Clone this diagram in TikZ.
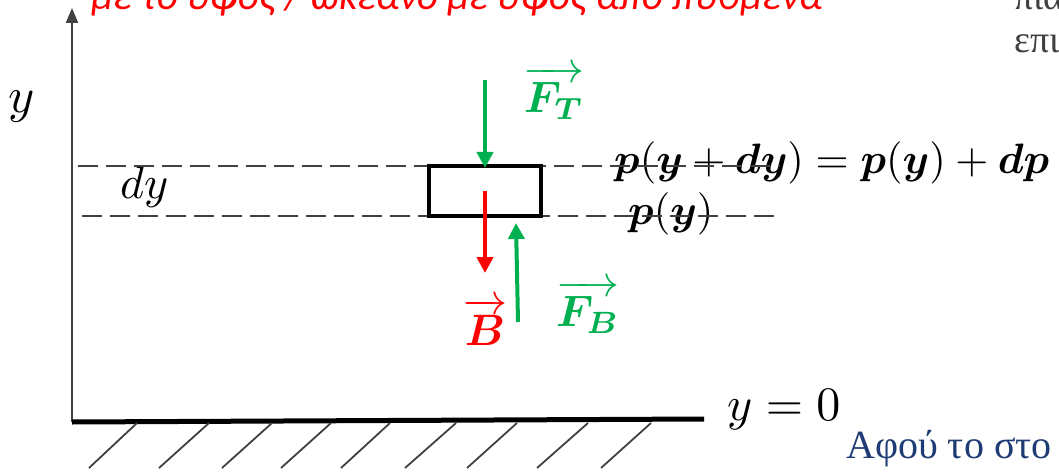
\documentclass[tikz,border=0pt]{standalone}
\usepackage{amsmath,bm,graphicx}
\usepackage[no-math]{fontspec}
\newfontfamily\redfont{Carlito}
\newfontfamily\grfont{Liberation Serif}
\usetikzlibrary{arrows.meta}
\definecolor{axgray}{HTML}{404040}
\definecolor{fgreen}{HTML}{00B050}
\definecolor{fred}{HTML}{FF0000}
\definecolor{navy}{HTML}{1F3B73}
\tikzset{
  axisline/.style={draw=axgray, line width=2pt},
  dashline/.style={draw=axgray, line width=1.8pt, dash pattern=on 20pt off 8pt},
  force/.style={line width=4pt, -{Triangle[width=16pt,length=16pt]}},
  hatch/.style={draw=axgray, line width=1.8pt},
  mathlbl/.style={inner sep=0pt},
  redtxt/.style={inner sep=0pt, text=fred, font=\redfont\itshape\fontsize{41}{48}\selectfont},
  graytxt/.style={inner sep=0pt, text=axgray, font=\grfont\fontsize{38}{44}\selectfont},
  navytxt/.style={inner sep=0pt, text=navy, font=\grfont\fontsize{40}{46}\selectfont},
}
\begin{document}
\begin{tikzpicture}[x=1pt,y=-1pt]
\useasboundingbox (0,0) rectangle (1059,473);
\clip (0,0) rectangle (1059,473);
% slide texts (cut off by the crop)
\node[redtxt, anchor=base west] (top) at (91,10) {με το ύψος / ωκεανό με ύψος από πυθμένα};
\node[graytxt, anchor=base west] (g1) at (1014,10) {πια};
\node[graytxt, anchor=base west] (g2) at (1014,53) {επι};
\node[navytxt, anchor=base west] (nav) at (846,458) {Αφού το στο};
% math labels
\node[mathlbl, anchor=base west] (ylab) at (8,113) {\scalebox{5}{$y$}};
\node[mathlbl, anchor=base west] (dylab) at (120,198) {\scalebox{4.6}{$dy$}};
\node[mathlbl, anchor=base west] (y0) at (727,420) {\scalebox{4.8}{$y=0$}};
\node[mathlbl, anchor=base west] (peq) at (614,174) {\scalebox{4.25}{$\bm{p}(\bm{y}+\bm{d}\bm{y})=\bm{p}(\bm{y})+\bm{d}\bm{p}$}};
\node[mathlbl, anchor=base west] (py) at (628,224) {\scalebox{4.25}{$\bm{p}(\bm{y})$}};
\node[mathlbl, text=fgreen] (ft) at (554,93) {\scalebox{4.4}{$\overrightarrow{\bm{F}_{\bm{T}}}$}};
\node[mathlbl, text=fgreen] (fb) at (588,307) {\scalebox{4.4}{$\overrightarrow{\bm{F}_{\bm{B}}}$}};
\node[mathlbl, text=fred] (bl) at (485,322) {\scalebox{4.4}{$\overrightarrow{\bm{B}}$}};
% dashed levels
\coordinate (d1a) at (78,166); \coordinate (d1b) at (780,166);
\coordinate (d2a) at (82,216); \coordinate (d2b) at (776,216);
\draw[dashline] (d1a) -- (d1b);
\draw[dashline] (d2a) -- (d2b);
% axis and ground
\coordinate (o) at (72,422);
\coordinate (ytop) at (72,8);
\coordinate (gend) at (704,419);
\draw[axisline, -{Triangle[width=12pt,length=15pt]}] (o) -- (ytop);
\draw[line width=5pt] (o) -- (gend);
\foreach \tx/\bx in {137/89, 209/159, 272/222, 331/281, 390/341, 456/405, 517/467, 588/537, 651/601}{
  \draw[hatch] (\tx,423) -- (\bx,468);
}
% element
\node[draw, line width=4pt, minimum width=112pt, minimum height=50pt, inner sep=0pt] (box) at (485,191) {};
% forces
\coordinate (ftS) at (485,80);
\coordinate (bE) at (485,273);
\coordinate (fbS) at (518,322);
\coordinate (fbE) at (516,223);
\draw[force, draw=fgreen, fill=fgreen] (ftS) -- ([yshift=-4pt]box.north);
\draw[force, draw=fred, fill=fred] (box.center) -- (bE);
\draw[force, draw=fgreen, fill=fgreen] (fbS) -- (fbE);
\end{tikzpicture}
\end{document}
